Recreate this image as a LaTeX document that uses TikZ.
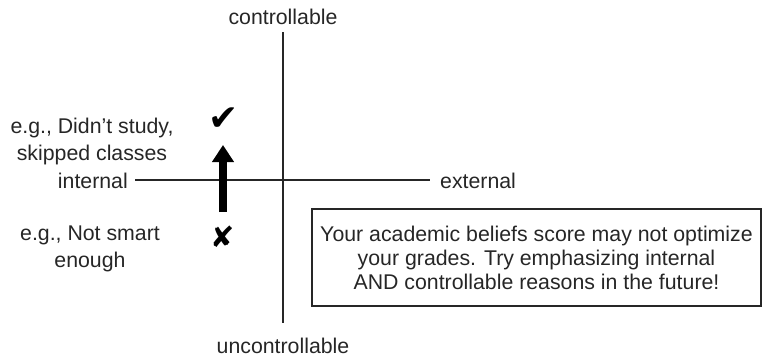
\documentclass[tikz,border=0pt]{standalone}
\usepackage{fontspec}
\setmainfont{Liberation Sans}
\newfontfamily\symfont{DejaVu Sans}
\usetikzlibrary{arrows.meta}
\begin{document}
\begin{tikzpicture}[x=1pt,y=1pt,
  lbl/.style={font=\fontsize{21.3}{24}\selectfont, text=black!85, inner sep=0pt},
  axis/.style={draw=black!85, line width=1.3pt},
  exmp/.style={lbl, align=center, font=\fontsize{21.3}{27}\selectfont}]
\useasboundingbox (0,0) rectangle (766,360);
\node[lbl] (ctrl) at (283,343) {controllable};
\node[lbl] (unctrl) at (283,14) {uncontrollable};
\node[lbl, anchor=east] (int) at (128,179) {internal};
\node[lbl, anchor=west] (ext) at (440,179) {external};
\coordinate (vtop) at (283,328);
\coordinate (vbot) at (283,37);
\coordinate (hl) at (135,180);
\coordinate (hr) at (430,180);
\draw[axis] (vtop) -- (vbot);
\draw[axis] (hl) -- (hr);
\node[exmp] (good) at (92,219) {e.g., Didn’t study,\\skipped classes};
\node[exmp] (bad) at (90,111) {e.g., Not smart\\enough};
\node[inner sep=0pt, font=\symfont\fontsize{36}{36}\selectfont] (chk) at (224,241) {✔};
\node[inner sep=0pt, font=\symfont\fontsize{29}{29}\selectfont] (xm) at (223,123) {✘};
\coordinate (abot) at (223,148);
\coordinate (atop) at (223,215);
\draw[line width=8pt, -{Triangle[width=21pt,length=17pt]}] (abot) -- (atop);
\node[draw=black!85, line width=1.3pt, minimum width=449pt, minimum height=97pt,
  lbl, align=center, font=\fontsize{21.3}{24}\selectfont] (box) at (536.5,102.5)
  {Your academic beliefs score may not optimize\\your grades. Try emphasizing internal\\AND controllable reasons in the future!};
\end{tikzpicture}
\end{document}
